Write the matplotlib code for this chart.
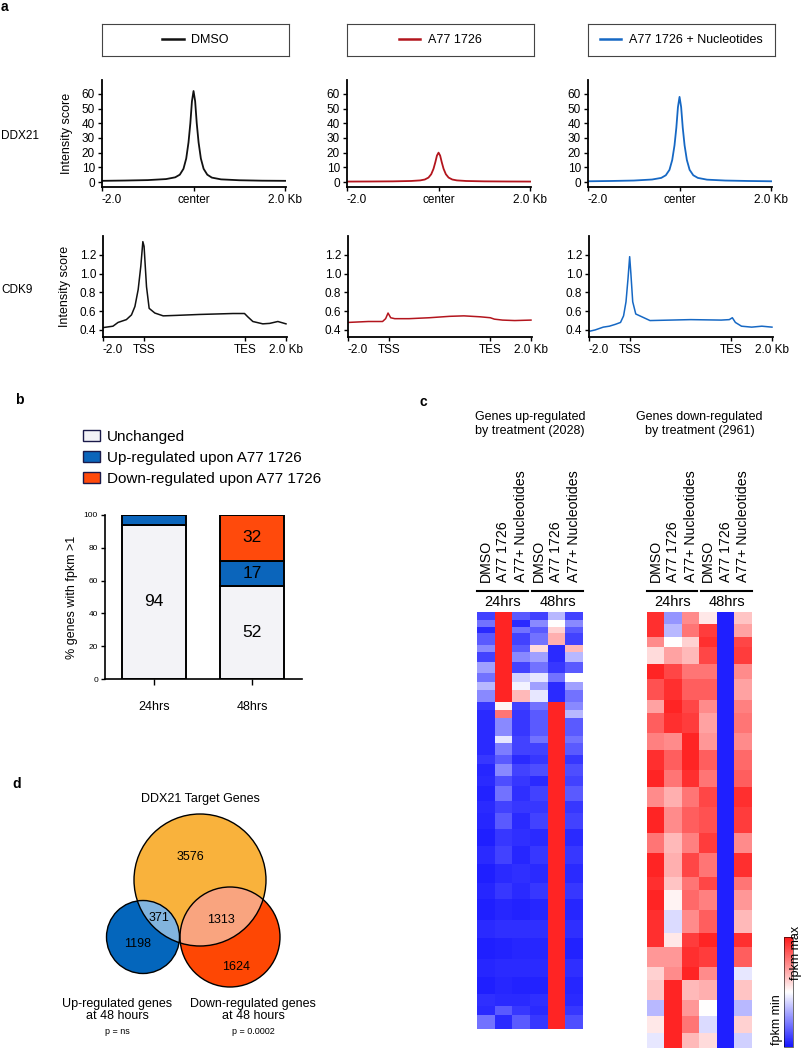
import numpy as np
import matplotlib
matplotlib.use("Agg")
import matplotlib.pyplot as plt
from matplotlib.lines import Line2D
from matplotlib.patches import Patch, Circle
from matplotlib.colors import LinearSegmentedColormap

plt.rcParams["font.family"] = ["Liberation Sans", "DejaVu Sans"]

# ---- panel a: profiles ----
conditions = ["DMSO", "A77 1726", "A77 1726 + Nucleotides"]
cond_colors = ["#111111", "#b3151d", "#1668c4"]

ddx21_x = [-2.0, -1.5, -1.0, -0.6, -0.4, -0.3, -0.22, -0.16, -0.11, -0.07, -0.035, 0.0,
           0.035, 0.07, 0.11, 0.16, 0.22, 0.3, 0.4, 0.6, 1.0, 1.5, 2.0]
ddx21_dmso = [0.8, 1.0, 1.3, 2.0, 3.2, 5.0, 9.0, 16.0, 27.0, 40.0, 55.0, 62.0,
              55.0, 40.0, 27.0, 16.0, 9.0, 5.0, 3.0, 1.8, 1.2, 0.9, 0.8]
ddx21_a77 = [0.3, 0.35, 0.45, 0.7, 1.1, 1.7, 3.0, 5.3, 9.0, 13.5, 18.0, 20.0,
             18.0, 13.5, 9.0, 5.3, 3.0, 1.7, 1.1, 0.7, 0.45, 0.35, 0.3]
ddx21_nuc = [0.5, 0.7, 1.0, 1.7, 2.8, 4.6, 8.3, 15.0, 25.0, 37.0, 51.0, 58.0,
             51.0, 37.0, 25.0, 15.0, 8.3, 4.6, 2.8, 1.6, 1.0, 0.7, 0.5]

# scaled-region axis: 0 = -2.0 kb, 2 = TSS, 7 = TES, 9 = +2.0 kb
cdk9_dmso_x = [0.0, 0.49, 0.74, 1.15, 1.4, 1.57, 1.73, 1.86, 1.96, 2.02, 2.14, 2.27, 2.55,
               2.96, 3.6, 4.75, 6.4, 6.96, 7.12, 7.37, 7.86, 8.2, 8.6, 9.0]
cdk9_dmso_y = [0.425, 0.44, 0.48, 0.51, 0.56, 0.65, 0.83, 1.08, 1.34, 1.29, 0.86, 0.63, 0.58,
               0.55, 0.555, 0.565, 0.575, 0.575, 0.54, 0.49, 0.465, 0.47, 0.49, 0.465]
cdk9_a77_x = [0.0, 1.0, 1.7, 1.85, 1.97, 2.1, 2.3, 3.0, 4.0, 5.0, 5.7, 6.5, 7.0, 7.2, 7.6, 8.2, 9.0]
cdk9_a77_y = [0.48, 0.49, 0.49, 0.52, 0.58, 0.53, 0.52, 0.52, 0.53, 0.545, 0.55, 0.54, 0.53,
              0.515, 0.505, 0.5, 0.505]
cdk9_nuc_x = [0.0, 0.3, 0.7, 1.0, 1.3, 1.55, 1.7, 1.82, 1.92, 2.0, 2.06, 2.15, 2.3, 2.6, 3.0,
              4.0, 5.0, 6.5, 6.9, 7.05, 7.2, 7.5, 8.0, 8.5, 9.0]
cdk9_nuc_y = [0.385, 0.4, 0.43, 0.44, 0.46, 0.48, 0.55, 0.7, 0.95, 1.18, 1.0, 0.7, 0.57, 0.54,
              0.5, 0.505, 0.51, 0.505, 0.51, 0.53, 0.48, 0.44, 0.43, 0.44, 0.43]

# ---- panel b: stacked bars (segment heights as drawn) ----
timepoints = ["24hrs", "48hrs"]
unchanged = [94, 57]
upregulated = [6, 15]
downregulated = [0, 28]
bar_labels = [["94", "", ""], ["52", "17", "32"]]
b_names = ["Unchanged", "Up-regulated upon A77 1726", "Down-regulated upon A77 1726"]
b_colors = ["#f3f3f7", "#0b65bb", "#ff4a0c"]

# ---- panel c: heatmaps, blocks of rows (count, six column values) ----
hm_columns = ["DMSO", "A77 1726", "A77+ Nucleotides", "DMSO", "A77 1726", "A77+ Nucleotides"]
up_counts = [40, 32, 32, 57, 32, 49, 57, 40, 40, 57, 40, 40, 89, 32,
             60, 40, 60, 50, 70, 60, 80, 80, 90, 90, 80, 100, 90, 100, 90, 80, 60, 45, 66]
up_values = [
    [-0.8, 0.95, -0.7, -0.8, -0.3, -0.8],
    [-0.6, 0.95, -0.9, -0.5, 0.0, -0.5],
    [-0.9, 0.95, -0.6, -0.7, 0.2, -0.7],
    [-0.7, 0.95, -0.8, -0.6, 0.35, -0.8],
    [-0.5, 0.95, -0.7, 0.15, -0.9, 0.3],
    [-0.8, 0.95, -0.5, -0.4, -0.9, -0.3],
    [-0.4, 0.95, -0.8, -0.6, -0.85, -0.7],
    [-0.6, 0.95, -0.2, -0.1, -0.6, 0.0],
    [-0.3, 0.95, -0.05, -0.4, -0.9, -0.4],
    [-0.5, 0.95, 0.3, -0.1, -0.9, -0.6],
    [-0.85, 0.05, -0.8, -0.6, 0.95, -0.5],
    [-0.9, 0.6, -0.85, -0.7, 0.95, -0.3],
    [-0.9, -0.5, -0.85, -0.7, 0.95, -0.7],
    [-0.9, -0.1, -0.8, -0.6, 0.95, -0.6],
    [-0.9, -0.55, -0.8, -0.8, 0.95, -0.7],
    [-0.85, -0.7, -0.9, -0.85, 0.95, -0.85],
    [-0.92, -0.5, -0.8, -0.75, 0.95, -0.75],
    [-0.9, -0.75, -0.85, -0.9, 0.95, -0.8],
    [-0.93, -0.6, -0.88, -0.8, 0.95, -0.7],
    [-0.9, -0.8, -0.85, -0.85, 0.95, -0.85],
    [-0.92, -0.7, -0.9, -0.8, 0.95, -0.8],
    [-0.95, -0.85, -0.88, -0.9, 0.95, -0.9],
    [-0.9, -0.8, -0.92, -0.85, 0.95, -0.85],
    [-0.95, -0.9, -0.88, -0.9, 0.95, -0.9],
    [-0.92, -0.85, -0.9, -0.85, 0.95, -0.85],
    [-0.95, -0.92, -0.93, -0.92, 0.95, -0.92],
    [-0.9, -0.88, -0.88, -0.88, 0.95, -0.88],
    [-0.95, -0.93, -0.92, -0.92, 0.95, -0.93],
    [-0.92, -0.9, -0.9, -0.9, 0.95, -0.88],
    [-0.95, -0.92, -0.93, -0.93, 0.95, -0.92],
    [-0.88, -0.9, -0.9, -0.88, 0.95, -0.9],
    [-0.9, -0.7, -0.85, -0.9, 0.95, -0.85],
    [-0.6, -0.9, -0.7, -0.85, 0.95, -0.75],
]
down_counts = [79, 90, 68, 113, 102, 147, 90, 136, 113, 136, 113, 136, 181, 136, 158, 90,
               136, 158, 90, 136, 90, 136, 113, 113, 101]
down_values = [
    [0.9, -0.45, 0.5, 0.1, -0.95, 0.25],
    [0.9, -0.3, 0.6, 0.85, -0.95, 0.4],
    [0.5, 0.0, 0.2, 0.9, -0.95, 0.8],
    [0.15, 0.4, 0.3, 0.8, -0.95, 0.85],
    [0.95, 0.8, 0.6, 0.6, -0.95, 0.5],
    [0.75, 0.9, 0.7, 0.7, -0.95, 0.4],
    [0.4, 0.95, 0.8, 0.5, -0.95, 0.55],
    [0.7, 0.9, 0.85, 0.4, -0.95, 0.6],
    [0.55, 0.5, 0.95, 0.45, -0.95, 0.5],
    [0.9, 0.7, 0.95, 0.7, -0.95, 0.65],
    [0.95, 0.6, 0.9, 0.6, -0.95, 0.7],
    [0.5, 0.35, 0.6, 0.8, -0.95, 0.9],
    [0.95, 0.5, 0.7, 0.75, -0.95, 0.85],
    [0.6, 0.3, 0.55, 0.85, -0.95, 0.5],
    [0.95, 0.35, 0.8, 0.6, -0.95, 0.9],
    [0.9, 0.25, 0.6, 0.8, -0.95, 0.6],
    [0.95, 0.05, 0.65, 0.55, -0.95, 0.45],
    [0.9, -0.15, 0.5, 0.7, -0.95, 0.3],
    [0.9, 0.1, 0.85, 0.95, -0.95, 0.9],
    [0.45, 0.45, 0.9, 0.85, -0.95, 0.7],
    [0.2, 0.5, 0.95, 0.5, -0.95, -0.1],
    [0.25, 0.95, 0.3, 0.35, -0.95, 0.25],
    [-0.3, 0.95, 0.45, 0.0, -0.95, -0.3],
    [0.1, 0.95, 0.6, -0.15, -0.95, 0.2],
    [-0.1, 0.95, 0.3, 0.15, -0.95, -0.2],
]

# ---- panel d: venn (pixel space) ----
venn_cx = [200, 143, 230]
venn_cy = [880, 937, 937]
venn_r = [66, 36.5, 50]
venn_colors = ["#f9b23c", "#0466bc", "#fe4704"]
overlap_colors = ["#82b4de", "#f9a47f"]
venn_counts = ["3576", "371", "1313", "1198", "1624"]

W, H = 804, 1050
fig = plt.figure(figsize=(W / 100, H / 100), dpi=100)


def box(l, t, r, b):
    return [l / W, 1 - b / H, (r - l) / W, (b - t) / H]


def ftext(x, y, s, **kw):
    kw.setdefault("ha", "center")
    kw.setdefault("va", "center")
    return fig.text(x / W, 1 - y / H, s, **kw)


def style_axes(ax, lw=1.3):
    for side in ["top", "right"]:
        ax.spines[side].set_visible(False)
    for side in ["left", "bottom"]:
        ax.spines[side].set_linewidth(lw)
    ax.tick_params(direction="out", length=3, width=1, pad=2)


# panel letters
ftext(1, 7, "a", fontsize=10, fontweight="bold", ha="left")
ftext(15, 400, "b", fontsize=10, fontweight="bold", ha="left")
ftext(420, 402, "c", fontsize=10, fontweight="bold", ha="left")
ftext(12, 784, "d", fontsize=10, fontweight="bold", ha="left")

col_left = [102, 347, 588]
ddx21_sets = [ddx21_dmso, ddx21_a77, ddx21_nuc]
cdk9_sets = [(cdk9_dmso_x, cdk9_dmso_y), (cdk9_a77_x, cdk9_a77_y), (cdk9_nuc_x, cdk9_nuc_y)]

for i, (cond, col) in enumerate(zip(conditions, cond_colors)):
    l = col_left[i]
    lax = fig.add_axes(box(l, 24, l + 187, 56))
    lax.set_xticks([])
    lax.set_yticks([])
    for s in lax.spines.values():
        s.set_linewidth(0.8)
        s.set_color("#444444")
    lax.legend([Line2D([], [], color=col, lw=1.8)], [cond], loc="center", frameon=False,
               fontsize=9, handlelength=1.7, handletextpad=0.6)

    ax1 = fig.add_axes(box(l, 80, l + 184, 187))
    ax1.plot(ddx21_x, ddx21_sets[i], color=col, lw=1.3)
    ax1.set_xlim(-2.0, 2.02)
    ax1.set_ylim(-3.4, 69.5)
    ax1.set_yticks(range(0, 61, 10))
    ax1.set_xticks([-2, 0, 2])
    ax1.set_xticklabels(["-2.0", "center", "2.0 Kb"])
    ax1.get_xticklabels()[0].set_ha("left")
    style_axes(ax1)
    ax1.tick_params(labelsize=8.5)

    ax2 = fig.add_axes(box(l + 1, 236, l + 185, 337))
    ax2.plot(cdk9_sets[i][0], cdk9_sets[i][1], color=col, lw=1.1)
    ax2.set_xlim(0, 9.05)
    ax2.set_ylim(0.325, 1.40)
    ax2.set_yticks([0.4, 0.6, 0.8, 1.0, 1.2])
    ax2.set_xticks([0, 2, 7, 9])
    ax2.set_xticklabels(["-2.0", "TSS", "TES", "2.0 Kb"])
    ax2.get_xticklabels()[0].set_ha("left")
    style_axes(ax2)
    ax2.tick_params(labelsize=8.5)

    if i == 0:
        ax1.set_ylabel("Intensity score", fontsize=9, labelpad=6)
        ax2.set_ylabel("Intensity score", fontsize=9, labelpad=6)

ftext(1, 136, "DDX21", fontsize=8.5, ha="left")
ftext(1, 290, "CDK9", fontsize=8.5, ha="left")

# panel b
axb = fig.add_axes(box(105, 515, 302, 679))
xpos = np.arange(len(timepoints))
bottoms = np.zeros(len(timepoints))
for k, seg in enumerate([unchanged, upregulated, downregulated]):
    seg = np.array(seg, dtype=float)
    axb.bar(xpos, seg, bottom=bottoms, width=0.653, color=b_colors[k], edgecolor="black",
            linewidth=1.4)
    for j in range(len(timepoints)):
        if bar_labels[j][k]:
            axb.text(xpos[j], bottoms[j] + seg[j] / 2, bar_labels[j][k], ha="center",
                     va="center", fontsize=12.5)
    bottoms += seg
axb.set_xlim(-0.5, 1.51)
axb.set_ylim(0, 100)
axb.set_yticks(range(0, 101, 20))
axb.set_xticks(xpos)
axb.set_xticklabels(timepoints)
style_axes(axb, lw=1.2)
axb.tick_params(axis="y", labelsize=6)
axb.tick_params(axis="x", labelsize=9, pad=12, length=4)
axb.set_ylabel("% genes with fpkm >1", fontsize=9, labelpad=4)

handles = [Patch(facecolor=c, edgecolor="#1a1a4a", linewidth=1) for c in b_colors]
fig.legend(handles, b_names, loc="upper left", bbox_to_anchor=(83 / W, 1 - 430 / H),
           frameon=False, fontsize=11, handlelength=1.1, handleheight=0.72,
           handletextpad=0.45, labelspacing=0.46, borderpad=0, borderaxespad=0)

# panel c
cmap = LinearSegmentedColormap.from_list("fpkm", ["#1414ff", "#ffffff", "#ff1a1a"])
hm_specs = [
    (np.repeat(np.array(up_values), up_counts, axis=0), (477, 612, 583, 1029),
     "Genes up-regulated\nby treatment (2028)"),
    (np.repeat(np.array(down_values), down_counts, axis=0), (647, 612, 752, 1048),
     "Genes down-regulated\nby treatment (2961)"),
]
for data, (l, t, r, b), title in hm_specs:
    axh = fig.add_axes(box(l, t, r, b))
    im = axh.imshow(data, aspect="auto", cmap=cmap, vmin=-1, vmax=1, interpolation="nearest")
    axh.axis("off")
    cw = (r - l) / 6
    for j, name in enumerate(hm_columns):
        ftext(l + cw * (j + 0.5), 582, name, rotation=90, va="bottom", fontsize=10.2)
    for g, lab in enumerate(["24hrs", "48hrs"]):
        x0 = l + g * 3 * cw + (0 if g == 0 else 2)
        x1 = l + (g + 1) * 3 * cw - (2 if g == 0 else 0)
        fig.add_artist(Line2D([x0 / W, x1 / W], [1 - 591 / H] * 2, color="black", lw=1.5))
        ftext((x0 + x1) / 2, 602, lab, fontsize=10.5)
    ftext((l + r) / 2, 424, title, fontsize=9, linespacing=1.15)

cax = fig.add_axes(box(784, 937, 793, 1047))
cb = fig.colorbar(im, cax=cax)
cb.set_ticks([])
cb.outline.set_linewidth(0.4)
ftext(796, 953, "fpkm max", rotation=90, fontsize=9)
ftext(777, 1020, "fpkm min", rotation=90, fontsize=9)

# panel d
axv = fig.add_axes(box(0, 770, 400, 1050))
axv.set_xlim(0, 400)
axv.set_ylim(1050, 770)
axv.axis("off")
circles = [Circle((venn_cx[k], venn_cy[k]), venn_r[k], facecolor=venn_colors[k],
                  edgecolor="none") for k in range(3)]
for c in circles:
    axv.add_patch(c)
for k, oc in zip([1, 2], overlap_colors):
    ov = Circle((venn_cx[k], venn_cy[k]), venn_r[k], facecolor=oc, edgecolor="none")
    axv.add_patch(ov)
    ov.set_clip_path(circles[0])
for k in range(3):
    axv.add_patch(Circle((venn_cx[k], venn_cy[k]), venn_r[k], fill=False, edgecolor="black",
                         lw=1))
count_pos = [(190, 857), (159, 918), (221, 920), (138, 944), (236, 967)]
for (x, y), s in zip(count_pos, venn_counts):
    axv.text(x, y, s, ha="center", va="center", fontsize=9)
ftext(200, 799, "DDX21 Target Genes", fontsize=9)
ftext(117, 1010, "Up-regulated genes\nat 48 hours", fontsize=9, linespacing=1.1)
ftext(253, 1010, "Down-regulated genes\nat 48 hours", fontsize=9, linespacing=1.1)
ftext(117, 1032, "p = ns", fontsize=6.5)
ftext(253, 1032, "p = 0.0002", fontsize=6.5)

fig.savefig("out.png", dpi=100)
